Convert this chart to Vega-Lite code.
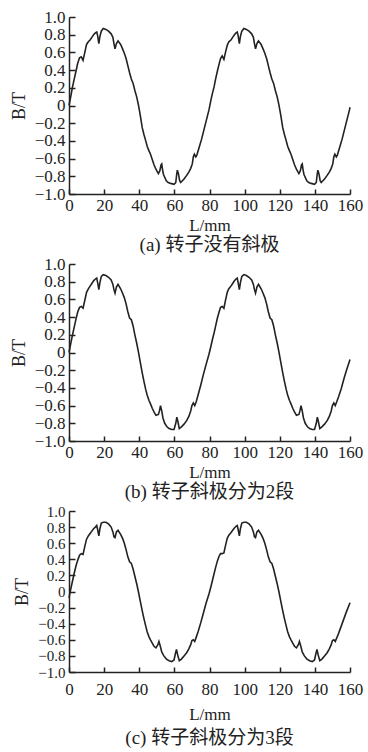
{
  "$schema": "https://vega.github.io/schema/vega-lite/v6.json",
  "background": "white",
  "padding": {"left": 10, "top": 8, "right": 6, "bottom": 2},
  "spacing": 70,
  "bounds": "flush",
  "config": {
    "view": {"stroke": null},
    "font": "Liberation Serif",
    "axis": {
      "grid": false,
      "labelOverlap": false,
      "domainColor": "#222",
      "domainWidth": 1.5,
      "tickColor": "#222",
      "tickWidth": 1.5,
      "labelFont": "Liberation Serif",
      "labelFontSize": 17,
      "labelColor": "#222",
      "titleFont": "Liberation Serif",
      "titleFontSize": 18,
      "titleFontWeight": "normal",
      "titleColor": "#222"
    },
    "axisX": {"tickSize": -5, "labelPadding": 8, "labelFlush": false, "titlePadding": 4, "titleFontSize": 17},
    "axisY": {"tickSize": -6, "labelPadding": 10, "titlePadding": 6},
    "title": {"font": "Liberation Serif, Noto Sans CJK SC", "fontSize": 19, "fontWeight": "normal", "color": "#222", "orient": "bottom", "anchor": "middle", "offset": 3}
  },
  "datasets": {
    "a": [
      {"L":0,"B":0.0},{"L":1,"B":0.1},{"L":2,"B":0.21},{"L":3,"B":0.3},{"L":4,"B":0.39},{"L":5,"B":0.48},{"L":6,"B":0.54},{"L":7,"B":0.55},{"L":8,"B":0.51},{"L":9,"B":0.6},{"L":10,"B":0.69},{"L":11,"B":0.72},{"L":12,"B":0.74},{"L":13,"B":0.77},{"L":14,"B":0.8},{"L":15,"B":0.82},{"L":15.8,"B":0.83},{"L":16.3,"B":0.79},{"L":17,"B":0.7},{"L":17.6,"B":0.78},{"L":18.4,"B":0.84},{"L":19.5,"B":0.87},{"L":21,"B":0.86},{"L":22.5,"B":0.84},{"L":24,"B":0.81},{"L":25,"B":0.77},{"L":25.6,"B":0.7},{"L":26.2,"B":0.64},{"L":27,"B":0.7},{"L":27.9,"B":0.73},{"L":29.4,"B":0.69},{"L":30.5,"B":0.64},{"L":31.5,"B":0.59},{"L":32.5,"B":0.53},{"L":33.5,"B":0.45},{"L":34.5,"B":0.37},{"L":35.5,"B":0.3},{"L":36.5,"B":0.25},{"L":37.5,"B":0.17},{"L":38.5,"B":0.1},{"L":39.5,"B":0.01},{"L":40.5,"B":-0.1},{"L":41.7,"B":-0.25},{"L":42.7,"B":-0.33},{"L":43.7,"B":-0.4},{"L":44.5,"B":-0.46},{"L":45.5,"B":-0.51},{"L":46.4,"B":-0.55},{"L":47.4,"B":-0.61},{"L":48.4,"B":-0.67},{"L":49.5,"B":-0.72},{"L":50.9,"B":-0.77},{"L":51.7,"B":-0.74},{"L":52.4,"B":-0.67},{"L":52.8,"B":-0.66},{"L":53.3,"B":-0.73},{"L":53.8,"B":-0.78},{"L":55.4,"B":-0.85},{"L":56.5,"B":-0.87},{"L":57.9,"B":-0.88},{"L":59.8,"B":-0.89},{"L":60.8,"B":-0.87},{"L":61.3,"B":-0.78},{"L":61.7,"B":-0.73},{"L":62.3,"B":-0.77},{"L":63,"B":-0.85},{"L":63.6,"B":-0.87},{"L":65.5,"B":-0.83},{"L":67,"B":-0.79},{"L":68.3,"B":-0.75},{"L":69.3,"B":-0.71},{"L":70.2,"B":-0.66},{"L":70.8,"B":-0.58},{"L":71.4,"B":-0.55},{"L":72.2,"B":-0.58},{"L":72.8,"B":-0.56},{"L":74,"B":-0.48},{"L":75.5,"B":-0.38},{"L":76.9,"B":-0.27},{"L":78.3,"B":-0.16},{"L":79.7,"B":-0.05},
      {"L":80.8,"B":0.06},{"L":81.7,"B":0.14},{"L":82.6,"B":0.21},{"L":83.5,"B":0.3},{"L":84.5,"B":0.39},{"L":85.5,"B":0.47},{"L":86.3,"B":0.53},{"L":87.2,"B":0.56},{"L":88.2,"B":0.52},{"L":89.1,"B":0.6},{"L":90.1,"B":0.68},{"L":91,"B":0.72},{"L":92.2,"B":0.74},{"L":93.2,"B":0.77},{"L":94.2,"B":0.8},{"L":95.1,"B":0.82},{"L":95.8,"B":0.83},{"L":96.3,"B":0.79},{"L":97,"B":0.7},{"L":97.6,"B":0.78},{"L":98.4,"B":0.84},{"L":99.6,"B":0.87},{"L":101,"B":0.86},{"L":102.5,"B":0.84},{"L":104,"B":0.81},{"L":105,"B":0.77},{"L":105.6,"B":0.7},{"L":106.2,"B":0.64},{"L":107,"B":0.7},{"L":107.9,"B":0.73},{"L":109.4,"B":0.69},{"L":110.5,"B":0.64},{"L":111.5,"B":0.59},{"L":112.5,"B":0.53},{"L":113.5,"B":0.45},{"L":114.5,"B":0.37},{"L":115.5,"B":0.3},{"L":116.5,"B":0.25},{"L":117.5,"B":0.17},{"L":118.5,"B":0.1},{"L":119.5,"B":0.01},{"L":120.5,"B":-0.1},{"L":121.7,"B":-0.25},{"L":122.7,"B":-0.33},{"L":123.7,"B":-0.4},{"L":124.5,"B":-0.46},{"L":125.5,"B":-0.51},{"L":126.4,"B":-0.55},{"L":127.4,"B":-0.61},{"L":128.4,"B":-0.67},{"L":129.5,"B":-0.72},{"L":130.9,"B":-0.77},{"L":131.7,"B":-0.74},{"L":132.4,"B":-0.67},{"L":132.8,"B":-0.66},{"L":133.3,"B":-0.73},{"L":133.8,"B":-0.78},{"L":135.4,"B":-0.85},{"L":136.5,"B":-0.87},{"L":137.9,"B":-0.88},{"L":139.8,"B":-0.89},{"L":140.8,"B":-0.87},{"L":141.3,"B":-0.78},{"L":141.7,"B":-0.73},{"L":142.3,"B":-0.77},{"L":143,"B":-0.85},{"L":143.6,"B":-0.87},{"L":145.5,"B":-0.83},{"L":147,"B":-0.79},{"L":148.3,"B":-0.75},{"L":149.3,"B":-0.71},{"L":150.2,"B":-0.66},{"L":150.8,"B":-0.58},{"L":151.4,"B":-0.55},{"L":152.2,"B":-0.58},{"L":152.8,"B":-0.56},{"L":154,"B":-0.48},{"L":155.5,"B":-0.38},{"L":156.9,"B":-0.27},{"L":158.3,"B":-0.16},{"L":159.7,"B":-0.05},{"L":160,"B":-0.02}
    ],
    "b": [
      {"L":0,"B":0.0},{"L":1,"B":0.1},{"L":2,"B":0.2},{"L":3,"B":0.29},{"L":4,"B":0.38},{"L":5,"B":0.46},{"L":6,"B":0.51},{"L":7,"B":0.52},{"L":8,"B":0.5},{"L":9,"B":0.59},{"L":10,"B":0.68},{"L":11,"B":0.72},{"L":12,"B":0.75},{"L":13,"B":0.78},{"L":14,"B":0.81},{"L":15,"B":0.83},{"L":15.8,"B":0.84},{"L":16.3,"B":0.79},{"L":17,"B":0.71},{"L":17.6,"B":0.79},{"L":18.4,"B":0.86},{"L":19.5,"B":0.88},{"L":21,"B":0.87},{"L":22.5,"B":0.85},{"L":24,"B":0.82},{"L":25,"B":0.77},{"L":25.6,"B":0.71},{"L":26.2,"B":0.67},{"L":27,"B":0.74},{"L":27.9,"B":0.77},{"L":29.4,"B":0.72},{"L":30.5,"B":0.67},{"L":31.5,"B":0.62},{"L":32.5,"B":0.55},{"L":33.5,"B":0.46},{"L":34.5,"B":0.39},{"L":35.5,"B":0.37},{"L":36.5,"B":0.3},{"L":37.5,"B":0.2},{"L":38.5,"B":0.11},{"L":39.5,"B":0.01},{"L":40.5,"B":-0.1},{"L":41.7,"B":-0.23},{"L":42.7,"B":-0.33},{"L":43.7,"B":-0.42},{"L":44.5,"B":-0.48},{"L":45.5,"B":-0.54},{"L":46.4,"B":-0.58},{"L":47.4,"B":-0.63},{"L":48.4,"B":-0.67},{"L":49.5,"B":-0.71},{"L":50.9,"B":-0.7},{"L":51.5,"B":-0.66},{"L":52.1,"B":-0.6},{"L":52.8,"B":-0.66},{"L":53.5,"B":-0.74},{"L":54.5,"B":-0.8},{"L":55.8,"B":-0.84},{"L":57,"B":-0.86},{"L":58.5,"B":-0.87},{"L":59.8,"B":-0.87},{"L":60.8,"B":-0.8},{"L":61.4,"B":-0.73},{"L":62,"B":-0.78},{"L":62.8,"B":-0.86},{"L":64,"B":-0.84},{"L":65.5,"B":-0.81},{"L":67,"B":-0.77},{"L":68.3,"B":-0.72},{"L":69.3,"B":-0.66},{"L":70,"B":-0.6},{"L":70.8,"B":-0.57},{"L":71.6,"B":-0.6},{"L":72.4,"B":-0.56},{"L":73.5,"B":-0.48},{"L":75,"B":-0.37},{"L":76.5,"B":-0.25},{"L":78,"B":-0.14},{"L":79.7,"B":-0.02},
      {"L":80.8,"B":0.07},{"L":81.7,"B":0.15},{"L":82.6,"B":0.22},{"L":83.5,"B":0.3},{"L":84.5,"B":0.39},{"L":85.5,"B":0.46},{"L":86.3,"B":0.51},{"L":87.2,"B":0.52},{"L":88.2,"B":0.5},{"L":89.1,"B":0.59},{"L":90.1,"B":0.68},{"L":91,"B":0.72},{"L":92.2,"B":0.75},{"L":93.2,"B":0.78},{"L":94.2,"B":0.81},{"L":95.1,"B":0.83},{"L":95.8,"B":0.84},{"L":96.3,"B":0.79},{"L":97,"B":0.71},{"L":97.6,"B":0.79},{"L":98.4,"B":0.86},{"L":99.6,"B":0.88},{"L":101,"B":0.87},{"L":102.5,"B":0.85},{"L":104,"B":0.82},{"L":105,"B":0.77},{"L":105.6,"B":0.71},{"L":106.2,"B":0.67},{"L":107,"B":0.74},{"L":107.9,"B":0.77},{"L":109.4,"B":0.72},{"L":110.5,"B":0.67},{"L":111.5,"B":0.62},{"L":112.5,"B":0.55},{"L":113.5,"B":0.46},{"L":114.5,"B":0.39},{"L":115.5,"B":0.37},{"L":116.5,"B":0.3},{"L":117.5,"B":0.2},{"L":118.5,"B":0.11},{"L":119.5,"B":0.01},{"L":120.5,"B":-0.1},{"L":121.7,"B":-0.23},{"L":122.7,"B":-0.33},{"L":123.7,"B":-0.42},{"L":124.5,"B":-0.48},{"L":125.5,"B":-0.54},{"L":126.4,"B":-0.58},{"L":127.4,"B":-0.63},{"L":128.4,"B":-0.67},{"L":129.5,"B":-0.71},{"L":130.9,"B":-0.7},{"L":131.5,"B":-0.66},{"L":132.1,"B":-0.6},{"L":132.8,"B":-0.66},{"L":133.5,"B":-0.74},{"L":134.5,"B":-0.8},{"L":135.8,"B":-0.84},{"L":137,"B":-0.86},{"L":138.5,"B":-0.87},{"L":139.8,"B":-0.87},{"L":140.8,"B":-0.8},{"L":141.4,"B":-0.73},{"L":142,"B":-0.78},{"L":142.8,"B":-0.86},{"L":144,"B":-0.84},{"L":145.5,"B":-0.81},{"L":147,"B":-0.77},{"L":148.3,"B":-0.72},{"L":149.3,"B":-0.66},{"L":150,"B":-0.6},{"L":150.8,"B":-0.57},{"L":151.6,"B":-0.6},{"L":152.4,"B":-0.56},{"L":153.5,"B":-0.5},{"L":155,"B":-0.41},{"L":156.5,"B":-0.3},{"L":158,"B":-0.2},{"L":160,"B":-0.08}
    ],
    "c": [
      {"L":0,"B":-0.08},{"L":1,"B":0.03},{"L":2,"B":0.13},{"L":3,"B":0.23},{"L":4,"B":0.32},{"L":5,"B":0.39},{"L":6,"B":0.45},{"L":7,"B":0.47},{"L":8,"B":0.46},{"L":9,"B":0.56},{"L":10,"B":0.65},{"L":11,"B":0.69},{"L":12,"B":0.72},{"L":13,"B":0.75},{"L":14,"B":0.78},{"L":15,"B":0.8},{"L":15.8,"B":0.82},{"L":16.3,"B":0.77},{"L":17,"B":0.69},{"L":17.6,"B":0.78},{"L":18.4,"B":0.85},{"L":19.5,"B":0.86},{"L":21,"B":0.86},{"L":22.5,"B":0.84},{"L":24,"B":0.8},{"L":25,"B":0.74},{"L":25.6,"B":0.68},{"L":26.2,"B":0.67},{"L":27,"B":0.74},{"L":27.9,"B":0.76},{"L":29.4,"B":0.71},{"L":30.5,"B":0.66},{"L":31.5,"B":0.6},{"L":32.5,"B":0.52},{"L":33.5,"B":0.43},{"L":34.5,"B":0.37},{"L":35.5,"B":0.35},{"L":36.5,"B":0.28},{"L":37.5,"B":0.19},{"L":38.5,"B":0.1},{"L":39.5,"B":0.0},{"L":40.5,"B":-0.11},{"L":41.7,"B":-0.24},{"L":42.7,"B":-0.34},{"L":43.7,"B":-0.43},{"L":44.5,"B":-0.5},{"L":45.5,"B":-0.56},{"L":46.4,"B":-0.6},{"L":47.4,"B":-0.64},{"L":48.4,"B":-0.68},{"L":49.5,"B":-0.7},{"L":50.6,"B":-0.66},{"L":51.2,"B":-0.62},{"L":52,"B":-0.68},{"L":52.8,"B":-0.75},{"L":54,"B":-0.8},{"L":55.5,"B":-0.84},{"L":57,"B":-0.86},{"L":58.5,"B":-0.87},{"L":59.8,"B":-0.85},{"L":60.6,"B":-0.77},{"L":61.2,"B":-0.72},{"L":61.9,"B":-0.79},{"L":62.8,"B":-0.86},{"L":64,"B":-0.84},{"L":65.5,"B":-0.8},{"L":67,"B":-0.76},{"L":68.3,"B":-0.71},{"L":69.3,"B":-0.66},{"L":70,"B":-0.61},{"L":70.8,"B":-0.6},{"L":71.6,"B":-0.62},{"L":72.4,"B":-0.57},{"L":73.5,"B":-0.5},{"L":75,"B":-0.39},{"L":76.5,"B":-0.27},{"L":78,"B":-0.15},{"L":79.7,"B":-0.03},
      {"L":80.8,"B":0.06},{"L":81.7,"B":0.14},{"L":82.6,"B":0.22},{"L":83.5,"B":0.3},{"L":84.5,"B":0.38},{"L":85.5,"B":0.44},{"L":86.3,"B":0.47},{"L":87.2,"B":0.47},{"L":88.2,"B":0.48},{"L":89.1,"B":0.57},{"L":90.1,"B":0.66},{"L":91,"B":0.7},{"L":92.2,"B":0.73},{"L":93.2,"B":0.76},{"L":94.2,"B":0.79},{"L":95.1,"B":0.81},{"L":95.8,"B":0.82},{"L":96.3,"B":0.77},{"L":97,"B":0.69},{"L":97.6,"B":0.78},{"L":98.4,"B":0.85},{"L":99.6,"B":0.86},{"L":101,"B":0.86},{"L":102.5,"B":0.84},{"L":104,"B":0.8},{"L":105,"B":0.74},{"L":105.6,"B":0.68},{"L":106.2,"B":0.67},{"L":107,"B":0.74},{"L":107.9,"B":0.76},{"L":109.4,"B":0.71},{"L":110.5,"B":0.66},{"L":111.5,"B":0.6},{"L":112.5,"B":0.52},{"L":113.5,"B":0.43},{"L":114.5,"B":0.37},{"L":115.5,"B":0.35},{"L":116.5,"B":0.28},{"L":117.5,"B":0.19},{"L":118.5,"B":0.1},{"L":119.5,"B":0.0},{"L":120.5,"B":-0.11},{"L":121.7,"B":-0.24},{"L":122.7,"B":-0.34},{"L":123.7,"B":-0.43},{"L":124.5,"B":-0.5},{"L":125.5,"B":-0.56},{"L":126.4,"B":-0.6},{"L":127.4,"B":-0.64},{"L":128.4,"B":-0.68},{"L":129.5,"B":-0.7},{"L":130.6,"B":-0.66},{"L":131.2,"B":-0.62},{"L":132,"B":-0.68},{"L":132.8,"B":-0.75},{"L":134,"B":-0.8},{"L":135.5,"B":-0.84},{"L":137,"B":-0.86},{"L":138.5,"B":-0.87},{"L":139.8,"B":-0.85},{"L":140.6,"B":-0.77},{"L":141.2,"B":-0.72},{"L":141.9,"B":-0.79},{"L":142.8,"B":-0.86},{"L":144,"B":-0.84},{"L":145.5,"B":-0.8},{"L":147,"B":-0.76},{"L":148.3,"B":-0.71},{"L":149.3,"B":-0.66},{"L":150,"B":-0.61},{"L":150.8,"B":-0.6},{"L":151.6,"B":-0.62},{"L":152.4,"B":-0.58},{"L":153.5,"B":-0.52},{"L":155,"B":-0.43},{"L":156.5,"B":-0.34},{"L":158,"B":-0.25},{"L":160,"B":-0.14}
    ]
  },
  "vconcat": [
    {
      "width": 281, "height": 177,
      "data": {"name": "a"},
      "mark": {"type": "line", "color": "#222", "strokeWidth": 1.6},
      "encoding": {
        "x": {"field": "L", "type": "quantitative", "scale": {"domain": [0, 160], "nice": false}, "axis": {"title": "L/mm", "values": [0,20,40,60,80,100,120,140,160]}},
        "y": {"field": "B", "type": "quantitative", "scale": {"domain": [-1, 1], "nice": false}, "axis": {"title": "B/T", "values": [-1,-0.8,-0.6,-0.4,-0.2,0,0.2,0.4,0.6,0.8,1], "labelExpr": "datum.value == 0 ? '0' : format(datum.value, '.1f')"}}
      },
      "title": {"text": "(a) 转子没有斜极"}
    },
    {
      "width": 281, "height": 177,
      "data": {"name": "b"},
      "mark": {"type": "line", "color": "#222", "strokeWidth": 1.6},
      "encoding": {
        "x": {"field": "L", "type": "quantitative", "scale": {"domain": [0, 160], "nice": false}, "axis": {"title": "L/mm", "values": [0,20,40,60,80,100,120,140,160]}},
        "y": {"field": "B", "type": "quantitative", "scale": {"domain": [-1, 1], "nice": false}, "axis": {"title": "B/T", "values": [-1,-0.8,-0.6,-0.4,-0.2,0,0.2,0.4,0.6,0.8,1], "labelExpr": "datum.value == 0 ? '0' : format(datum.value, '.1f')"}}
      },
      "title": {"text": "(b) 转子斜极分为2段"}
    },
    {
      "width": 281, "height": 161,
      "data": {"name": "c"},
      "mark": {"type": "line", "color": "#222", "strokeWidth": 1.6},
      "encoding": {
        "x": {"field": "L", "type": "quantitative", "scale": {"domain": [0, 160], "nice": false}, "axis": {"title": "L/mm", "values": [0,20,40,60,80,100,120,140,160], "labelPadding": 14, "titlePadding": 9}},
        "y": {"field": "B", "type": "quantitative", "scale": {"domain": [-1, 1], "nice": false}, "axis": {"title": "B/T", "labelFontSize": 15, "values": [-1,-0.8,-0.6,-0.4,-0.2,0,0.2,0.4,0.6,0.8,1], "labelExpr": "datum.value == 0 ? '0' : format(datum.value, '.1f')"}}
      },
      "title": {"text": "(c) 转子斜极分为3段", "offset": 7}
    }
  ]
}
